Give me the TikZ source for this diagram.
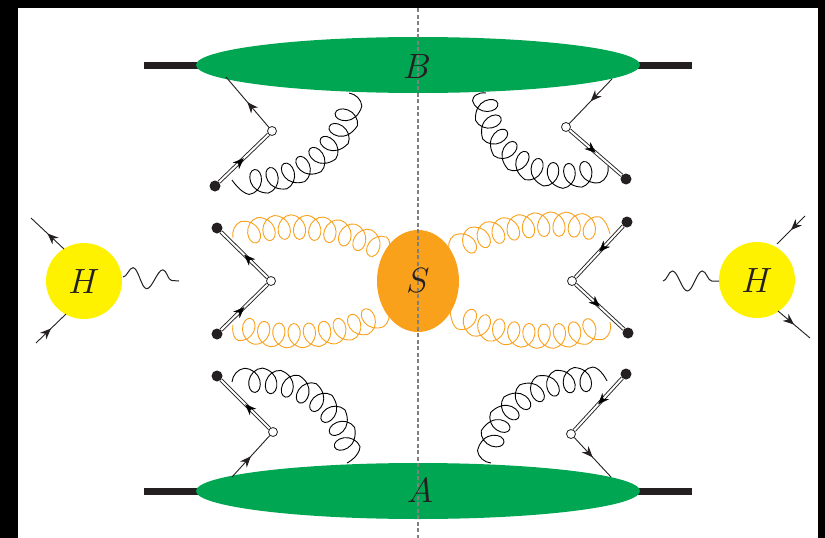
\documentclass[tikz,border=0pt]{standalone}
\usepackage{amsmath}
\usepackage{tikz}
\usetikzlibrary{arrows.meta,shapes.geometric,decorations.pathmorphing,decorations.markings}
\def\gcoilset{%
  \pgfmathsetlengthmacro\gxA{0.25*\pgfdecorationsegmentlength+9.7pt}%
  \pgfmathsetlengthmacro\gxB{0.5*\pgfdecorationsegmentlength}%
  \pgfmathsetlengthmacro\gxC{0.75*\pgfdecorationsegmentlength-9.7pt}%
  \pgfmathsetlengthmacro\gxD{\pgfdecorationsegmentlength}%
}
\pgfdeclaredecoration{gcoil}{lead}{
  \state{lead}[width=0.25*\pgfdecorationsegmentlength+9.7pt,next state=loop]{
    \gcoilset
    \pgfpathcurveto{\pgfpoint{1.36pt}{6.6pt}}{\pgfpoint{\gxA-6.69pt}{12pt}}{\pgfpoint{\gxA}{12pt}}
  }
  \state{loop}[width=\pgfdecorationsegmentlength]{
    \gcoilset
    \pgfpathcurveto{\pgfpoint{6.69pt}{12pt}}{\pgfpoint{\gxA-1.36pt}{6.6pt}}{\pgfpoint{\gxA}{0pt}}
    \pgfpathcurveto{\pgfpoint{\gxA+1.36pt}{-6.6pt}}{\pgfpoint{\gxB+3.98pt}{-12pt}}{\pgfpoint{\gxB}{-12pt}}
    \pgfpathcurveto{\pgfpoint{\gxB-3.98pt}{-12pt}}{\pgfpoint{\gxC-1.36pt}{-6.6pt}}{\pgfpoint{\gxC}{0pt}}
    \pgfpathcurveto{\pgfpoint{\gxC+1.36pt}{6.6pt}}{\pgfpoint{\gxD-6.69pt}{12pt}}{\pgfpoint{\gxD}{12pt}}
  }
  \state{final}{
    \pgfpathcurveto{\pgfpoint{6.69pt}{12pt}}{\pgfpointdecoratedpathlast}{\pgfpointdecoratedpathlast}
  }
}
\tikzset{
  midarrow/.style={decoration={markings,mark=at position 0.5 with {\arrow{Stealth[length=11pt,width=9pt]}}},postaction={decorate}},
  fline/.style={draw=lineK,line width=0.9pt},
  wline/.style={draw=lineK,line width=0.9pt,double=white,double distance=2pt},
  gluon/.style={line width=0.9pt,decorate,decoration={gcoil,segment length=#1}},
  gluon/.default=17pt,
  wave/.style={draw=lineK,line width=1pt,decorate,decoration={snake,amplitude=10pt,segment length=30pt}},
  dot/.style={circle,fill=lineK,inner sep=0pt,minimum size=11pt},
  vtx/.style={circle,draw=lineK,fill=white,line width=0.8pt,inner sep=0pt,minimum size=9pt},
  blob/.style={ellipse,fill=#1,inner sep=0pt},
  lab/.style={text=lineK,font=\Huge,scale=1.41},
}
\begin{document}
\begin{tikzpicture}[x=1pt,y=-1pt]
\definecolor{lineK}{rgb}{0.14,0.12,0.13}
\definecolor{gG}{rgb}{0.00,0.65,0.32}
\definecolor{gO}{rgb}{0.98,0.63,0.11}
\definecolor{gY}{rgb}{1.00,0.95,0.00}
\useasboundingbox (0,0) rectangle (825,538);
\fill[black] (0,0) rectangle (825,538);
\fill[white] (18,8) rectangle (818,538);
% hadrons
\draw[lineK,line width=7pt] (144,65) -- (692,65);
\draw[lineK,line width=7pt] (144,491) -- (692,491);
\node[blob=gG,minimum width=444pt,minimum height=56pt] (blobB) at (418,65) {};
\node[blob=gG,minimum width=444pt,minimum height=56pt] (blobA) at (418,491) {};
\node[blob=gO,minimum width=82pt,minimum height=102pt] (blobS) at (418,281) {};
\node[circle,fill=gY,inner sep=0pt,minimum size=76pt] (hL) at (84,281) {};
\node[circle,fill=gY,inner sep=0pt,minimum size=76pt] (hR) at (757,280) {};
% top left
\node[dot] (dTL) at (215,186) {};
\node[vtx] (vTL) at (272,131) {};
\coordinate (eTL) at (226,77);
\draw[wline] (dTL) -- (vTL);
\path[midarrow] (dTL) -- (vTL);
\draw[fline,midarrow] (vTL) -- (eTL);
\draw[gluon] (349,93) .. controls (352,140) and (300,190) .. (232,180);
% top right
\node[dot] (dTR) at (626,179) {};
\node[vtx] (vTR) at (566,127) {};
\coordinate (eTR) at (612,79);
\draw[wline] (vTR) -- (dTR);
\path[midarrow] (vTR) -- (dTR);
\draw[fline,midarrow] (eTR) -- (vTR);
\draw[gluon] (608,166) .. controls (540,195) and (484,150) .. (486,93);
% middle left
\node[dot] (dML) at (217,228) {};
\node[dot] (dBL) at (217,334) {};
\node[vtx] (vML) at (271,281) {};
\draw[wline] (dBL) -- (vML);
\path[midarrow] (dBL) -- (vML);
\draw[wline] (vML) -- (dML);
\path[midarrow] (vML) -- (dML);
\draw[gO,gluon=15.5pt] (233,238) .. controls (270,222) and (340,222) .. (388,253);
\draw[gO,gluon=15.5pt] (388,309) .. controls (340,342) and (270,340) .. (233,325);
% middle right
\node[dot] (dMR) at (627,222) {};
\node[dot] (dBR) at (628,333) {};
\node[vtx] (vMR) at (572,281) {};
\draw[wline] (dMR) -- (vMR);
\path[midarrow] (dMR) -- (vMR);
\draw[wline] (vMR) -- (dBR);
\path[midarrow] (vMR) -- (dBR);
\draw[gO,gluon=15.5pt] (450,253) .. controls (490,224) and (570,216) .. (610,234);
\draw[gO,gluon=15.5pt] (610,322) .. controls (570,344) and (490,340) .. (450,309);
% bottom left
\node[dot] (dLL) at (217,376) {};
\node[vtx] (vLL) at (273,432) {};
\coordinate (eLL) at (232,477);
\draw[fline,midarrow] (eLL) -- (vLL);
\draw[wline] (vLL) -- (dLL);
\path[midarrow] (vLL) -- (dLL);
\draw[gluon] (232,382) .. controls (310,372) and (350,420) .. (347,463);
% bottom right
\node[dot] (dRR) at (626,374) {};
\node[vtx] (vRR) at (571,434) {};
\coordinate (eRR) at (611,477);
\draw[wline] (dRR) -- (vRR);
\path[midarrow] (dRR) -- (vRR);
\draw[fline,midarrow] (vRR) -- (eRR);
\draw[gluon] (491,463) .. controls (486,420) and (530,372) .. (607,381);
% photons and quarks at the H blobs
\coordinate (wL) at (179,281);
\coordinate (wR) at (663,281);
\coordinate (qA) at (31,218);
\coordinate (qB) at (36,343);
\coordinate (qC) at (805,216);
\coordinate (qD) at (810,338);
\draw[wave] (hL) ++(39,-4) -- (wL);
\draw[wave] (wR) -- (719,281);
\draw[fline,midarrow] (hL) ++(-20,-32) -- (qA);
\draw[fline,midarrow] (qB) -- ++(30,-29);
\draw[fline,midarrow] (qC) -- ++(-28,28);
\draw[fline,midarrow] (hR) ++(21,31) -- (qD);
% cut
\draw[black!50,line width=1.1pt,dash pattern=on 4pt off 2.5pt] (418,8) -- (418,538);
% labels
\node[lab] (tB) at (417,67) {$B$};
\node[lab] (tA) at (420,491) {$A$};
\node[lab] (tS) at (418,281) {$S$};
\node[lab] (tL) at (84,282) {$H$};
\node[lab] (tR) at (757,281) {$H$};
\end{tikzpicture}
\end{document}
